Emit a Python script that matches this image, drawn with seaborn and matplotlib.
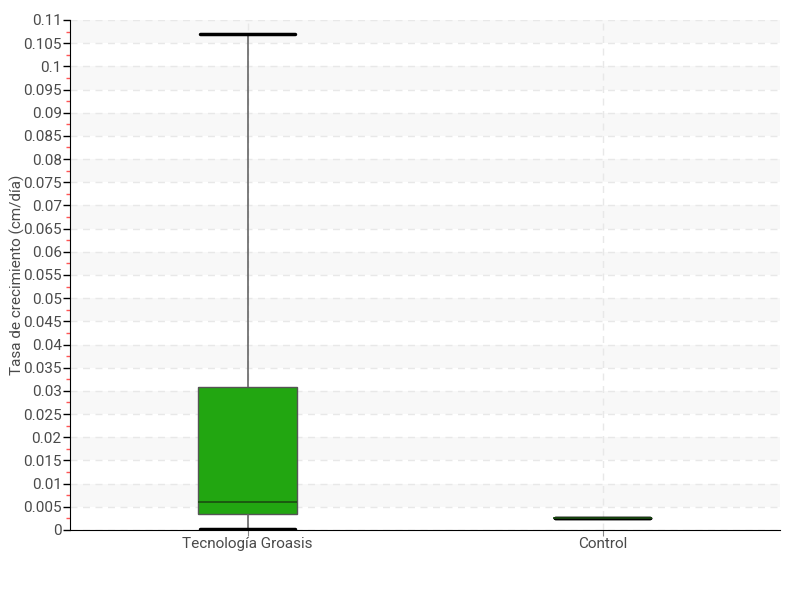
import numpy as np
import pandas as pd
import matplotlib
matplotlib.use("Agg")
import matplotlib.pyplot as plt
import seaborn as sns

# Data (min, Q1, median, Q3, max per group)
groups = ["Tecnología Groasis", "Control"]
groasis_values = [0.0002, 0.00345, 0.006, 0.0308, 0.107]
control_values = [0.0026, 0.0026, 0.0026, 0.0026, 0.0026]

df = pd.DataFrame({
    "grupo": [groups[0]] * len(groasis_values) + [groups[1]] * len(control_values),
    "tasa": groasis_values + control_values,
})

sns.set_style("white")
plt.rcParams["font.family"] = ["Roboto", "DejaVu Sans"]

fig = plt.figure(figsize=(8, 6), dpi=100)
ax = fig.add_axes([0.0875, 0.1167, 0.8875, 0.85])

sns.boxplot(data=df, x="grupo", y="tasa", ax=ax, whis=(0, 100), width=0.28,
            color="#22a611", saturation=1, linewidth=1,
            boxprops=dict(edgecolor="#555555"),
            medianprops=dict(color="#1a4d10", linewidth=1.2),
            whiskerprops=dict(color="#666666", linewidth=1.2),
            capprops=dict(color="black", linewidth=2.5),
            zorder=3)

# widen the caps to nearly the box width
for line in ax.lines:
    xd = np.asarray(line.get_xdata(), dtype=float)
    if len(xd) == 2 and xd[0] != xd[1] and line.get_color() in ("black", "k"):
        c = xd.mean()
        line.set_xdata([c - 0.134, c + 0.134])

ax.set_ylim(0, 0.11)
ax.set_xlim(-0.5, 1.5)

# alternating bands
for k in range(1, 22, 2):
    ax.axhspan(0.005 * k, 0.005 * (k + 1), color="#f8f8f8", zorder=0, lw=0)

ax.set_yticks(np.arange(0, 0.1101, 0.005))
ax.set_yticklabels(["0"] + ["{:g}".format(round(v, 3)) for v in np.arange(0.005, 0.1101, 0.005)])
ax.set_yticks(np.arange(0.0025, 0.11, 0.005), minor=True)
ax.tick_params(axis="y", which="major", length=5, width=1, color="black", direction="out",
               left=True, labelsize=11, labelcolor="#4a4a4a", pad=1)
ax.tick_params(axis="y", which="minor", length=3, width=1, color="#ff5555", direction="out", left=True)
ax.tick_params(axis="x", length=4, color="#888888", bottom=True, labelsize=11, labelcolor="#4a4a4a", pad=1)

ax.grid(True, axis="both", which="major", linestyle=(0, (5, 4)), color="#e8e8e8", linewidth=1)
ax.set_axisbelow(True)

for s in ["top", "right"]:
    ax.spines[s].set_visible(False)
ax.spines["left"].set_color("black")
ax.spines["bottom"].set_color("black")

ax.set_xlabel("")
ax.set_ylabel("Tasa de crecimiento (cm/día)", fontsize=11, color="#4a4a4a")
ax.yaxis.set_label_coords(-0.063, 0.5)

fig.savefig("out.png", dpi=100)
